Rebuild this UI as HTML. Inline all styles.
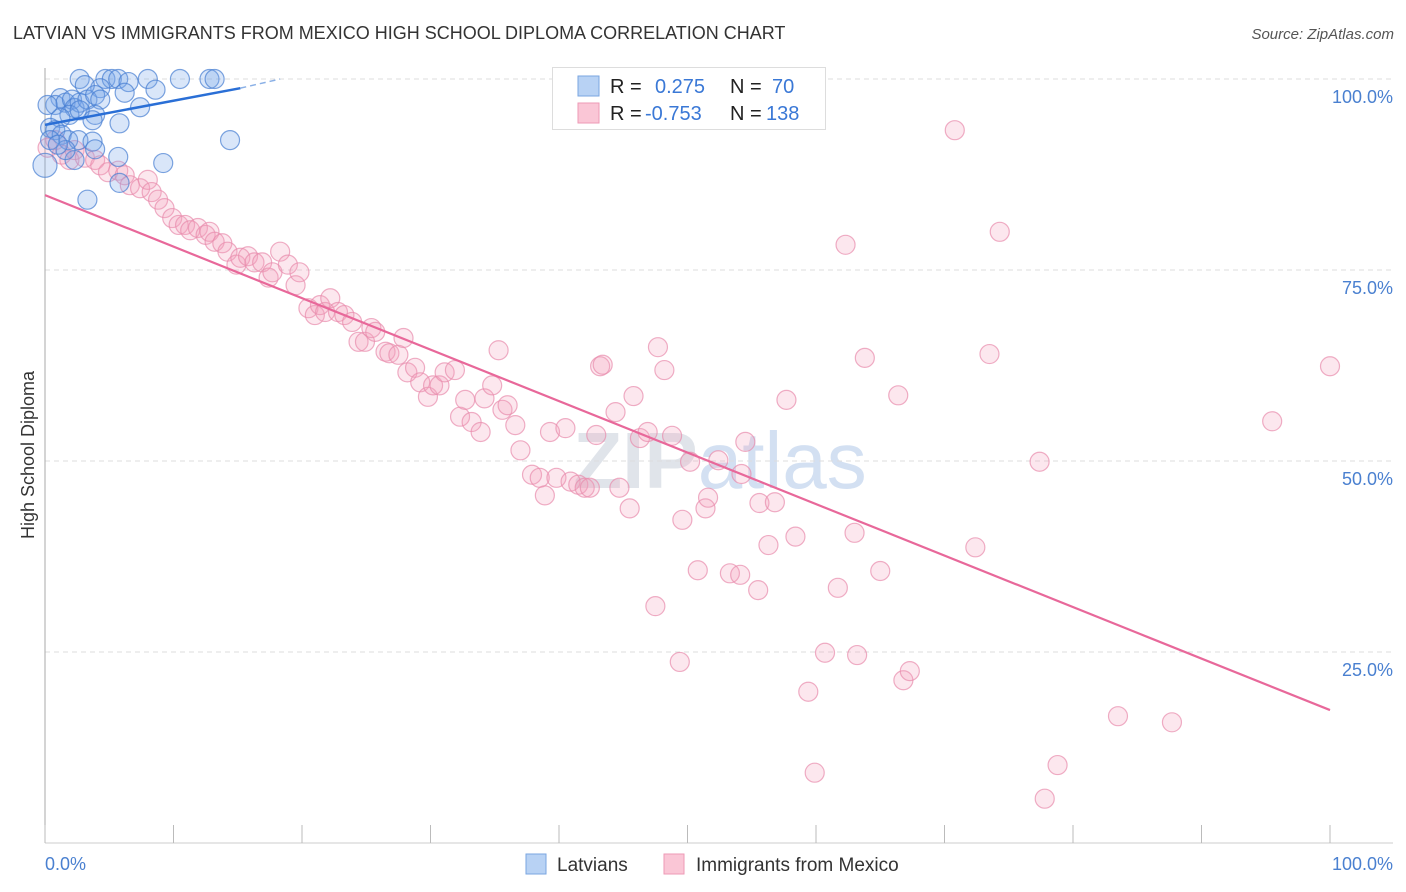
<!DOCTYPE html>
<html><head><meta charset="utf-8"><style>
body{margin:0;background:#fff;font-family:"Liberation Sans",sans-serif;}
svg{display:block}
</style></head><body>
<svg id="chart" width="1406" height="892">
<text x="13" y="39" font-size="18" fill="#333">LATVIAN VS IMMIGRANTS FROM MEXICO HIGH SCHOOL DIPLOMA CORRELATION CHART</text>
<text x="1394" y="39" font-size="15" fill="#555" font-style="italic" text-anchor="end">Source: ZipAtlas.com</text>
<text x="720" y="488" font-size="80" fill="#e0e4ea" text-anchor="middle" font-weight="bold">ZIP<tspan font-weight="normal" fill="#d3e0f2">atlas</tspan></text>
<g id="grid"></g><g id="axes"></g><g id="marks"></g><g id="lines"></g>
<text transform="translate(34,455) rotate(-90)" font-size="18" fill="#333" text-anchor="middle">High School Diploma</text>
<text x="45" y="870" font-size="18" fill="#4a80d0">0.0%</text>
<text x="1393" y="870" font-size="18" fill="#4a80d0" text-anchor="end">100.0%</text>
<g>
<rect x="552.5" y="67.5" width="273" height="62" fill="#fff" stroke="#ddd"/>
<rect x="578" y="76" width="21" height="20" fill="#b8d2f4" stroke="#7aa6e0"/>
<rect x="578" y="103" width="21" height="20" fill="#fac6d6" stroke="#ee9ab6"/>
<text x="610" y="93" font-size="20" fill="#222">R =</text>
<text x="655" y="93" font-size="20" fill="#3a78d6">0.275</text>
<text x="730" y="93" font-size="20" fill="#222">N =</text>
<text x="772" y="93" font-size="20" fill="#3a78d6">70</text>
<text x="610" y="120" font-size="20" fill="#222">R =</text>
<text x="645" y="120" font-size="20" fill="#3a78d6">-0.753</text>
<text x="730" y="120" font-size="20" fill="#222">N =</text>
<text x="766" y="120" font-size="20" fill="#3a78d6">138</text>
</g>
<g>
<rect x="526" y="854" width="20" height="20" fill="#b8d2f4" stroke="#7aa6e0"/>
<text x="557" y="871" font-size="19" fill="#333">Latvians</text></g>
<g>
<rect x="664" y="854" width="20" height="20" fill="#fac6d6" stroke="#ee9ab6"/>
<text x="696" y="871" font-size="19" fill="#333">Immigrants from Mexico</text></g>
</svg>
<script>
const yTicks=[100,75,50,25];
const yTickLabels=["100.0%","75.0%","50.0%","25.0%"];
const xTicks=[0,10,20,30,40,50,60,70,80,90,100];
const blueX=[2.7,4.7,5.2,5.7,6.5,8.0,10.5,12.8,13.2,8.6,6.2,4.3,3.1,1.2,0.8,1.6,2.1,2.3,2.7,3.3,3.9,4.3,7.4,3.9,1.9,1.2,0.4,0.8,1.3,1.8,2.6,3.7,5.8,14.4,3.9,5.7,9.2,2.3,1.6,0,5.8,3.3,0.4,1.0,2.7,0.2,3.7];
const blueY=[100,100,100,100,99.6,100,100,100,100,98.6,98.2,98.8,99.2,97.5,96.6,96.9,97.3,96.2,96.9,97.3,97.9,97.3,96.3,95.3,95.3,94.9,93.6,93.3,92.7,92.0,92.0,91.8,94.2,92.0,90.8,89.8,89.0,89.4,90.7,88.7,86.4,84.2,92.0,91.4,95.9,96.6,94.6];
const pinkX=[0.2,0.8,1.3,1.9,2.3,3.1,3.9,4.3,4.9,5.7,6.2,6.6,7.4,8.0,8.3,8.8,9.3,9.9,10.4,10.9,11.3,11.9,12.5,12.8,13.2,13.8,14.2,14.9,15.2,15.8,16.3,16.9,17.4,17.7,18.3,18.9,19.5,19.8,20.5,21.0,21.4,21.8,22.2,22.8,23.3,23.9,24.4,24.9,25.4,25.7,26.5,26.8,27.5,27.9,28.2,28.8,29.2,29.8,30.2,30.7,31.1,31.9,32.3,32.7,33.2,33.9,34.2,34.8,35.3,35.6,36.0,36.6,37.0,37.9,38.5,38.9,39.3,39.8,40.5,40.9,41.5,42.0,42.4,42.9,43.2,43.4,44.4,44.7,45.5,45.8,46.3,46.9,47.7,48.2,48.8,49.6,50.2,50.8,51.4,51.6,52.4,53.3,54.1,54.2,54.5,55.5,55.6,56.3,56.8,57.7,58.4,59.4,59.9,60.7,61.7,62.3,63.0,63.2,63.8,65.0,66.4,66.8,67.3,70.8,72.4,73.5,74.3,77.4,77.8,78.8,83.5,87.7,95.5,100,54.7,47.5,49.4];
const pinkY=[91.0,92.0,90.1,89.4,90.7,89.7,89.4,88.7,87.8,88.0,87.4,86.1,85.7,86.8,85.2,84.2,83.1,81.8,80.9,80.9,80.2,80.5,79.6,80.0,78.7,78.5,77.4,75.7,76.6,76.8,76.0,76.0,74.0,74.7,77.4,75.7,73.0,74.7,70.0,69.1,70.4,69.5,71.3,69.5,69.1,68.2,65.6,65.6,67.4,66.9,64.3,64.1,63.9,66.1,61.6,62.2,60.3,58.4,59.9,59.9,61.6,61.9,55.8,58.0,55.1,53.8,58.2,59.9,64.5,56.7,57.3,54.7,51.4,48.2,47.8,45.5,53.8,47.8,54.3,47.3,46.9,46.5,46.5,53.4,62.4,62.6,56.4,46.5,43.8,58.5,53.0,53.8,64.9,61.9,53.3,42.3,49.9,35.7,43.8,45.2,50.1,35.3,35.1,48.3,52.5,33.1,44.5,39.0,44.6,58.0,40.1,19.8,9.2,24.9,33.4,78.3,40.6,24.6,63.5,35.6,58.6,21.3,22.5,93.3,38.7,64.0,80.0,49.9,5.8,10.2,16.6,15.8,55.2,62.4,99.9,31.0,23.7];
const blueTrend=[94.0,98.8,100];
const blueTrendX=[0,15.2,18.3];
const pinkTrend=[84.8,17.4];
const pinkTrendX=[0,100];
const NS="http://www.w3.org/2000/svg";
const xs=v=>45+v*12.85, ys=v=>843-v*7.64;
function mk(tag,attrs,parent){const e=document.createElementNS(NS,tag);for(const k in attrs)e.setAttribute(k,attrs[k]);document.getElementById(parent).appendChild(e);return e;}
yTicks.forEach((t,i)=>{
 const g=mk('line',{x1:45,x2:1393,y1:ys(t),y2:ys(t),stroke:'#ddd','stroke-dasharray':'5,4'},'grid');
 
 
 const l=mk('text',{x:1393,y:ys(t)+24,'font-size':18,fill:'#4a80d0','text-anchor':'end'},'grid');
 l.textContent=yTickLabels[i];
 
 
});
const ax=mk('line',{x1:45,x2:45,y1:68,y2:843,stroke:'#aaa'},'axes');


const bx=mk('line',{x1:45,x2:1393,y1:843,y2:843,stroke:'#ccc'},'axes');


xTicks.forEach(t=>{const e=mk('line',{x1:xs(t),x2:xs(t),y1:825,y2:843,stroke:'#bbb'},'axes');
 
 });
pinkX.forEach((x,i)=>{const c=mk('circle',{cx:xs(x),cy:ys(pinkY[i]),r:9.5,fill:'rgba(244,160,188,0.25)',stroke:'rgba(232,140,172,0.7)','stroke-width':1.2},'marks');
 
 });
blueX.forEach((x,i)=>{const c=mk('circle',{cx:xs(x),cy:ys(blueY[i]),r:i==39?12:9.5,fill:'rgba(120,165,235,0.28)',stroke:'rgba(70,125,210,0.7)','stroke-width':1.2},'marks');
 
 });
const bl=mk('line',{x1:xs(blueTrendX[0]),y1:ys(blueTrend[0]),x2:xs(blueTrendX[1]),y2:ys(blueTrend[1]),stroke:'#2a6fd6','stroke-width':2.5},'lines');


const bd=mk('line',{x1:xs(blueTrendX[1]),y1:ys(blueTrend[1]),x2:xs(blueTrendX[2]),y2:ys(blueTrend[2]),stroke:'#8ab0e6','stroke-width':1.5,'stroke-dasharray':'6,4'},'lines');


const pl=mk('line',{x1:xs(pinkTrendX[0]),y1:ys(pinkTrend[0]),x2:xs(pinkTrendX[1]),y2:ys(pinkTrend[1]),stroke:'#e8689a','stroke-width':2.2},'lines');


</script>
</body></html>
